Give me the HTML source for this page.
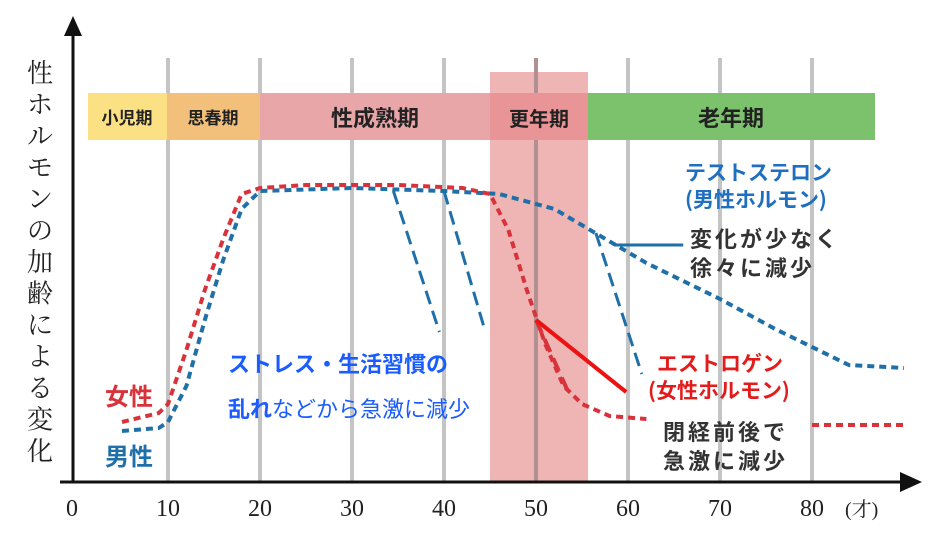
<!DOCTYPE html>
<html><head><meta charset="utf-8"><style>
body{margin:0;background:#fff}
svg{display:block}
text{font-family:"Liberation Sans","Noto Sans CJK JP",sans-serif}
.jp text,text.jp{font-family:"Noto Sans CJK JP",sans-serif;font-weight:bold}
.serif text,text.serif{font-family:"Liberation Serif","Noto Serif CJK SC",serif;font-weight:normal}
</style></head><body>
<svg id="c" width="936" height="548" viewBox="0 0 936 548">
<rect x="490" y="72" width="98" height="410" fill="#efb4b4"/>
<g id="grid"></g>
<g>
<rect x="88" y="93" width="79" height="47" fill="#fce084"/>
<rect x="167" y="93" width="93" height="47" fill="#f3c07c"/>
<rect x="260" y="93" width="230" height="47" fill="#e9a6a8"/>
<rect x="490" y="93" width="98" height="47" fill="#e99496"/>
<rect x="588" y="93" width="287" height="47" fill="#7cc26c"/>
<g class="jp" fill="#222" text-anchor="middle">
<text x="127" y="124" font-size="17">小児期</text>
<text x="213" y="124" font-size="17">思春期</text>
<text x="375" y="126" font-size="22">性成熟期</text>
<text x="539" y="126" font-size="20">更年期</text>
<text x="731" y="126" font-size="22">老年期</text>
</g></g>
<g id="series"></g>
<g>
<line x1="73" y1="482" x2="73" y2="30" stroke="#111" stroke-width="3"/>
<polygon points="64,36 82,36 73,16" fill="#111"/>
<line x1="60" y1="482" x2="905" y2="482" stroke="#111" stroke-width="3"/>
<polygon points="900,472 900,492 922,482" fill="#111"/>
</g>
<g id="ticks" class="serif" font-size="24" fill="#222" text-anchor="middle"></g>
<text x="845" y="516" class="serif" font-size="20" fill="#222">(才)</text>
<g class="serif" font-size="26" fill="#222" text-anchor="middle">
<text x="40" y="82">性</text><text x="40" y="113.5">ホ</text><text x="40" y="145">ル</text><text x="40" y="176.5">モ</text><text x="40" y="208">ン</text><text x="40" y="239.5">の</text><text x="40" y="271">加</text><text x="40" y="302.5">齢</text><text x="40" y="334">に</text><text x="40" y="365.5">よ</text><text x="40" y="397">る</text><text x="40" y="428.5">変</text><text x="40" y="460">化</text>
</g>
<g class="jp">
<text x="105" y="405" font-size="24" fill="#d8323a">女性</text>
<text x="105" y="465" font-size="24" fill="#1f6fa8">男性</text>
<text x="228" y="372" font-size="22" fill="#1a5cff">ストレス・生活習慣の</text>
<text x="228" y="417" font-size="22" fill="#1a5cff">乱れ<tspan font-weight="normal">などから急激に減少</tspan></text>
<text x="685" y="180" font-size="21" fill="#1f6fc0">テストステロン</text>
<text x="685" y="207" font-size="21" fill="#1f6fc0">(男性ホルモン)</text>
<text x="690" y="247" font-size="22" fill="#333" letter-spacing="3">変化が少なく</text>
<text x="690" y="276" font-size="22" fill="#333" letter-spacing="3">徐々に減少</text>
<text x="657" y="371" font-size="21" fill="#e41b1b">エストロゲン</text>
<text x="648" y="398" font-size="21" fill="#e41b1b">(女性ホルモン)</text>
<text x="663" y="440" font-size="22" fill="#333" letter-spacing="3">閉経前後で</text>
<text x="663" y="469" font-size="22" fill="#333" letter-spacing="3">急激に減少</text>
</g>
</svg>
<script>
const tickAges=[0,10,20,30,40,50,60,70,80];
const femaleAges=[5,9,10,12,14,16,18,20,25,35,42,45,47,49,51,53,55,58,62];
const femaleLevels=[20,23,26,44,64,81,96,98,99,99,98,96,84,64,46,32,26,22,21];
const femaleTailAges=[80,90];
const femaleTailLevels=[19,19];
const maleAges=[5,9,10,12,14,16,18,20,30,40,46,52,57,62,70,76,80,84,90];
const maleLevels=[17,18,20,32,54,74,91,97,98,97,96,91,82,73,61,51,45,39,38];
const x=a=>76+9.2*a, y=v=>482-3*v;
const NS='http://www.w3.org/2000/svg';
const grid=document.getElementById('grid'),ticks=document.getElementById('ticks'),ser=document.getElementById('series');
tickAges.forEach(a=>{
 if(a>0){const l=document.createElementNS(NS,'line');
 l.setAttribute('x1',x(a));l.setAttribute('x2',x(a));l.setAttribute('y1',58);l.setAttribute('y2',482);
 l.setAttribute('stroke',a===50?'#b09090':'#c4c4c4');l.setAttribute('stroke-width',4);
 
 
 grid.appendChild(l);}
 const t=document.createElementNS(NS,'text');t.setAttribute('x',x(a)+(a===0?-4:0));t.setAttribute('y',516);t.textContent=a;
 
 
 ticks.appendChild(t);
});
function line(ages,lv,col,name,dash,w){
 const p=document.createElementNS(NS,'path');
 p.setAttribute('d',ages.map((a,i)=>(i?'L':'M')+x(a)+','+y(lv[i])).join(''));
 p.setAttribute('fill','none');p.setAttribute('stroke',col);p.setAttribute('stroke-width',w||4);
 p.setAttribute('stroke-dasharray',dash||'7 5');p.setAttribute('stroke-linejoin','round');
 
 
 ser.appendChild(p);
}
line(maleAges,maleLevels,'#1f6fa8','testosterone-line');
line(femaleAges,femaleLevels,'#d8323a','estrogen-line');
line(femaleTailAges,femaleTailLevels,'#d8323a','estrogen-line-tail');
function seg(a1,v1,a2,v2,col,name,dash,w){line([a1,a2],[v1,v2],col,name,dash,w);}
seg(34.5,97,39.5,50,'#1f6fa8','stress-drop-1','14 7',3);
seg(40,97,44.5,50,'#1f6fa8','stress-drop-2','14 7',3);
seg(56.5,83,61.5,36,'#1f6fa8','stress-drop-3','14 7',3);
seg(50,54,53.5,30,'#d8323a','estrogen-drop-dash','14 7',4);
seg(50,54,59.8,30,'#ee1111','estrogen-pointer','0',4);
seg(58.5,79,66,79,'#1f6fa8','testosterone-pointer','0',3);
</script>
</body></html>
